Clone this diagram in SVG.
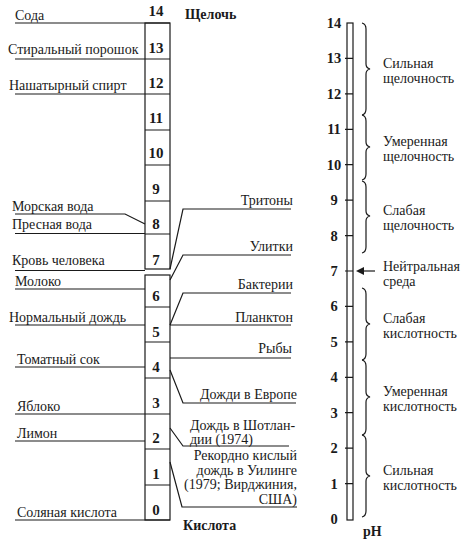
<svg xmlns="http://www.w3.org/2000/svg" width="465" height="539" viewBox="0 0 465 539" font-family="'Liberation Serif','Times New Roman',Times,'DejaVu Serif',serif">
<style>
text{font-family:'Liberation Serif','Times New Roman',Times,'DejaVu Serif',serif;font-size:14px;fill:#1a1a1a}
.b{font-weight:bold;font-size:14px}
.n{font-weight:bold;font-size:15px;text-anchor:middle}
.rn{font-weight:bold;font-size:14.5px;text-anchor:middle}
.r{text-anchor:end}
.ln{fill:none;stroke:#1a1a1a;stroke-width:1.2}
</style>
<rect width="465" height="539" fill="#fff"/>
<g id="scale-left">
<rect class="ln" x="145" y="23" width="25" height="246"/>
<rect class="ln" x="145" y="275" width="25" height="245"/>
<path class="ln" d="M145 59H170M145 94H170M145 130H170M145 165H170M145 201H170M145 234H170M145 307H170M145 342H170M145 378H170M145 414H170M145 449H170M145 485H170"/>
<text class="n" x="156" y="16">14</text>
<text class="n" x="156" y="53">13</text>
<text class="n" x="156" y="88">12</text>
<text class="n" x="156" y="123">11</text>
<text class="n" x="156" y="158">10</text>
<text class="n" x="156" y="194">9</text>
<text class="n" x="156" y="229">8</text>
<text class="n" x="156" y="265">7</text>
<text class="n" x="156" y="301">6</text>
<text class="n" x="156" y="337">5</text>
<text class="n" x="156" y="372">4</text>
<text class="n" x="156" y="408">3</text>
<text class="n" x="156" y="443">2</text>
<text class="n" x="156" y="479">1</text>
<text class="n" x="156" y="515">0</text>
</g>
<g id="connectors">
<path class="ln" d="M15 23H170"/>
<path class="ln" d="M15 59H145"/>
<path class="ln" d="M15 94H145"/>
<path class="ln" d="M15 214H125L145 224"/>
<path class="ln" d="M15 233.5H145"/>
<path class="ln" d="M15 270.5H145"/>
<path class="ln" d="M15 289H145"/>
<path class="ln" d="M15 325H145"/>
<path class="ln" d="M15 367H145"/>
<path class="ln" d="M15 414H145"/>
<path class="ln" d="M15 441H145"/>
<path class="ln" d="M15 520H170"/>
<path class="ln" d="M170 269L183 209H291"/>
<path class="ln" d="M170 280L183 255H291"/>
<path class="ln" d="M170 325L183 293H291"/>
<path class="ln" d="M170 325H291"/>
<path class="ln" d="M170 358H291"/>
<path class="ln" d="M170 370L183 403H296"/>
<path class="ln" d="M170 428L183 446H289"/>
<path class="ln" d="M170 462L182 507H297"/>
</g>
<g id="titles">
<text class="b" x="185" y="19">Щелочь</text>
<text class="b" x="183" y="530">Кислота</text>
</g>
<g id="left-labels">
<g id="soda"><text x="15" y="20">Сода</text></g>
<g id="powder"><text x="8" y="54">Стиральный порошок</text></g>
<g id="ammonia"><text x="9" y="90">Нашатырный спирт</text></g>
<g id="sea"><text x="12" y="211">Морская вода</text></g>
<g id="fresh"><text x="12" y="229">Пресная вода</text></g>
<g id="blood"><text x="12" y="265">Кровь человека</text></g>
<g id="milk"><text x="15" y="286">Молоко</text></g>
<g id="rain"><text x="9" y="322">Нормальный дождь</text></g>
<g id="tomato"><text x="17" y="364">Томатный сок</text></g>
<g id="apple"><text x="17" y="411">Яблоко</text></g>
<g id="lemon"><text x="17" y="438">Лимон</text></g>
<g id="hcl"><text x="17" y="517">Соляная кислота</text></g>
</g>
<g id="right-labels">
<g id="newts"><text class="r" x="293" y="205">Тритоны</text></g>
<g id="snails"><text class="r" x="293" y="251">Улитки</text></g>
<g id="bacteria"><text class="r" x="293" y="289">Бактерии</text></g>
<g id="plankton"><text class="r" x="293" y="322">Планктон</text></g>
<g id="fish"><text class="r" x="292" y="353">Рыбы</text></g>
<g id="europe"><text class="r" x="297" y="399">Дожди в Европе</text></g>
<g id="scotland"><text x="190" y="430">Дождь в Шотлан-</text><text x="190" y="444">дии (1974)</text></g>
<g id="wheeling"><text class="r" x="297" y="460">Рекордно кислый</text><text class="r" x="297" y="474.5">дождь в Уилинге</text><text class="r" x="297" y="489">(1979; Вирджиния,</text><text class="r" x="297" y="503.5">США)</text></g>
</g>
<g id="scale-right">
<rect class="ln" x="347" y="23" width="6" height="497"/>
<path class="ln" d="M345 58.4H353M345 93.9H353M345 129.3H353M345 164.7H353M345 200.1H353M345 235.6H353M345 271H353M345 306.4H353M345 341.9H353M345 377.3H353M345 412.7H353M345 448.1H353M345 483.6H353"/>
<text class="rn" x="334" y="28">14</text>
<text class="rn" x="334" y="63">13</text>
<text class="rn" x="334" y="99">12</text>
<text class="rn" x="334" y="134">11</text>
<text class="rn" x="334" y="170">10</text>
<text class="rn" x="334" y="205">9</text>
<text class="rn" x="334" y="241">8</text>
<text class="rn" x="334" y="276">7</text>
<text class="rn" x="334" y="311">6</text>
<text class="rn" x="334" y="347">5</text>
<text class="rn" x="334" y="382">4</text>
<text class="rn" x="334" y="418">3</text>
<text class="rn" x="334" y="453">2</text>
<text class="rn" x="334" y="489">1</text>
<text class="rn" x="334" y="524">0</text>
<text class="b" x="363" y="536">pH</text>
</g>
<g id="braces" class="ln">
<path d="M362 23Q366 24 366 29V64Q366 68 370 69Q366 70 366 74V109Q366 114 362 115"/>
<path d="M362 115Q366 116 366 121V142Q366 146 370 147Q366 148 366 152V174Q366 179 362 180"/>
<path d="M362 181Q366 182 366 187V211Q366 215 370 216Q366 217 366 221V247Q366 252 362 253"/>
<path d="M362 288Q366 289 366 294V319Q366 323 370 324Q366 325 366 329V354Q366 359 362 360"/>
<path d="M362 360Q366 361 366 366V392Q366 396 370 397Q366 398 366 402V429Q366 434 362 435"/>
<path d="M362 435Q366 436 366 441V471Q366 475 370 476Q366 477 366 481V511Q366 516 362 517"/>
</g>
<g id="neutral-arrow">
<path class="ln" d="M362 271H375"/>
<polygon points="356,271 364,267 364,275" fill="#1a1a1a"/>
</g>
<g id="range-labels">
<g id="strong-alk"><text x="383" y="68">Сильная</text><text x="383" y="83">щелочность</text></g>
<g id="mod-alk"><text x="383" y="146">Умеренная</text><text x="383" y="161">щелочность</text></g>
<g id="weak-alk"><text x="383" y="215">Слабая</text><text x="383" y="230">щелочность</text></g>
<g id="neutral"><text x="383" y="271">Нейтральная</text><text x="383" y="286">среда</text></g>
<g id="weak-acid"><text x="383" y="323">Слабая</text><text x="383" y="338">кислотность</text></g>
<g id="mod-acid"><text x="383" y="396">Умеренная</text><text x="383" y="411">кислотность</text></g>
<g id="strong-acid"><text x="383" y="475">Сильная</text><text x="383" y="490">кислотность</text></g>
</g>
</svg>
